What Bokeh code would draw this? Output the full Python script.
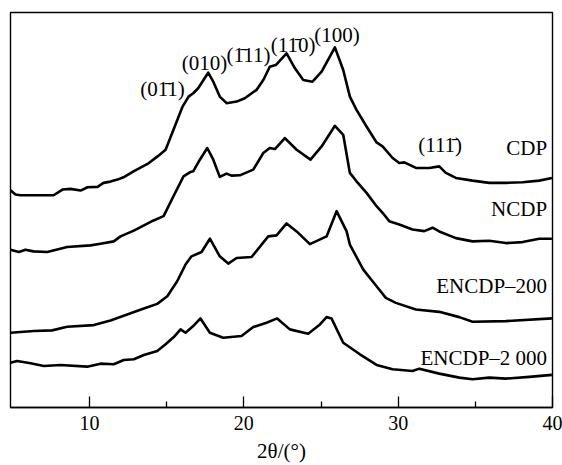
from bokeh.plotting import figure
from bokeh.models import Range1d, FixedTicker, Label
from bokeh.embed import file_html
from bokeh.resources import INLINE

# ---- data (2theta in degrees, intensity in arbitrary units, curves already offset) ----
tt_cdp = [4.88, 5.20, 5.53, 7.67, 8.25, 8.77, 9.42, 9.87, 10.52, 10.91, 11.36, 11.81, 12.20,
          12.85, 13.76, 14.41, 14.93, 15.44, 16.03, 16.42, 16.72, 17.04, 17.69, 18.02, 18.44,
          18.88, 19.53, 20.06, 20.82, 21.26, 21.68, 22.07, 22.77, 23.31, 23.85, 24.45, 25.04,
          25.90, 26.44, 26.87, 27.30, 27.95, 28.60, 28.99, 29.64, 30.07, 30.40, 31.15, 32.02,
          32.66, 33.09, 33.74, 34.82, 35.90, 36.98, 38.06, 39.14, 39.96]
cdp = [218.0, 213.7, 213.0, 213.0, 218.7, 219.4, 217.7, 221.0, 221.4, 225.4, 226.7, 228.7, 231.0,
       237.0, 244.4, 252.0, 258.7, 278.7, 302.0, 312.0, 315.4, 320.4, 336.0, 327.0, 312.0,
       305.4, 307.0, 310.4, 318.7, 328.7, 342.0, 343.7, 355.4, 340.4, 328.7, 327.0, 337.0,
       361.4, 338.7, 312.0, 298.7, 282.0, 266.0, 262.0, 250.4, 245.4, 246.0, 240.4, 240.4,
       242.0, 235.4, 230.4, 227.7, 225.4, 225.4, 226.0, 227.7, 230.4]

tt_ncdp = [4.88, 5.42, 5.85, 6.37, 7.26, 8.55, 10.06, 10.71, 11.57, 12.01, 12.87, 14.15, 14.80,
           15.44, 16.09, 16.55, 16.72, 17.15, 17.63, 18.02, 18.44, 18.88, 19.20, 19.74, 20.61,
           21.26, 21.68, 22.01, 22.66, 23.42, 24.32, 25.04, 25.90, 26.44, 26.87, 27.30, 27.95,
           28.60, 28.99, 29.42, 30.07, 30.93, 31.69, 32.23, 32.66, 33.74, 34.82, 35.90, 36.98,
           38.06, 39.14, 39.96]
ncdp = [158.4, 156.0, 158.4, 156.7, 156.0, 161.0, 162.7, 164.4, 166.7, 171.7, 177.5, 187.7, 192.0,
        212.0, 232.0, 236.4, 237.0, 248.7, 260.4, 248.7, 231.4, 234.7, 232.7, 233.0, 238.7,
        255.4, 260.4, 259.4, 270.4, 258.7, 248.7, 262.0, 282.7, 273.7, 235.4, 227.0, 215.4,
        202.0, 195.4, 187.0, 183.7, 178.7, 177.0, 180.4, 176.7, 170.0, 166.7, 167.4, 165.0,
        166.0, 169.4, 169.4]

tt_e200 = [4.88, 6.39, 7.58, 8.55, 10.28, 11.36, 12.44, 13.52, 14.39, 15.04, 15.68, 16.22, 16.61,
           17.26, 17.80, 18.44, 18.99, 19.53, 20.50, 21.58, 22.12, 22.77, 23.42, 24.28, 25.36,
           26.01, 26.66, 26.87, 27.74, 28.60, 29.20, 29.85, 31.15, 32.66, 33.96, 34.82, 36.98,
           39.96]
e200 = [75.0, 76.7, 77.4, 81.0, 82.7, 87.4, 93.4, 99.4, 104.0, 111.7, 126.7, 143.4, 151.7,
        156.0, 169.4, 151.7, 144.4, 150.0, 151.0, 171.7, 172.7, 184.7, 176.7, 164.0, 171.7,
        197.0, 176.7, 163.4, 138.4, 121.7, 110.0, 105.0, 98.4, 96.0, 90.7, 86.0, 86.7,
        89.4]

tt_e2000 = [4.88, 5.31, 6.18, 7.04, 8.12, 9.85, 10.71, 11.57, 12.22, 12.87, 13.52, 14.39, 14.93,
            15.46, 15.90, 16.22, 16.72, 17.19, 17.80, 18.66, 19.85, 20.61, 21.47, 22.16, 22.98,
            24.17, 24.93, 25.36, 25.68, 26.44, 27.52, 28.60, 29.64, 30.93, 31.37, 32.66, 33.96,
            34.82, 35.90, 36.98, 38.50, 39.96]
e2000 = [45.0, 46.7, 44.4, 41.7, 42.7, 41.0, 44.0, 43.4, 47.7, 48.4, 52.7, 56.7, 63.4,
         70.7, 78.4, 75.0, 81.7, 89.4, 75.0, 70.0, 71.7, 80.7, 85.0, 89.4, 78.4,
         74.0, 83.4, 90.7, 89.4, 65.0, 53.4, 42.7, 38.4, 36.7, 39.0, 34.0, 30.0,
         28.4, 30.0, 29.0, 30.7, 32.7]

series_names = ["CDP", "NCDP", "ENCDP\u2013200", "ENCDP\u20132 000"]
miller_labels = ["(01\u03041)", "(010)", "(1\u030411)", "(11\u03040)", "(100)", "(111\u0304)"]
tick_values = [10, 20, 30, 40]
minor_tick_values = [15, 25, 35]
x_title = "2\u03b8/(\u00b0)"

FONT = "Liberation Serif"

p = figure(width=562, height=465, output_backend="svg", toolbar_location=None,
           x_range=Range1d(4.88, 40), y_range=Range1d(0, 396.4),
           min_border_left=10, min_border_right=10, min_border_top=12, min_border_bottom=56)
p.background_fill_color = "white"
p.border_fill_color = "white"
p.outline_line_color = "black"
p.outline_line_width = 1.4
p.xgrid.visible = False
p.ygrid.visible = False
p.yaxis.visible = False

ax = p.xaxis[0]
ax.ticker = FixedTicker(ticks=tick_values, minor_ticks=minor_tick_values)
ax.major_tick_in = 11
ax.major_tick_out = 0
ax.minor_tick_in = 6
ax.minor_tick_out = 0
ax.major_tick_line_width = 1.3
ax.minor_tick_line_width = 1.3
ax.axis_line_width = 1.4
ax.major_label_text_font = FONT
ax.major_label_text_font_size = "20px"
ax.major_label_text_color = "black"
ax.major_label_standoff = 8
ax.axis_label = x_title
ax.axis_label_text_font = FONT
ax.axis_label_text_font_size = "21px"
ax.axis_label_text_font_style = "normal"
ax.axis_label_text_color = "black"
ax.axis_label_standoff = 6

for xs, ys in [(tt_cdp, cdp), (tt_ncdp, ncdp), (tt_e200, e200), (tt_e2000, e2000)]:
    p.line(xs, ys, line_color="black", line_width=2.6, line_join="round")

# Miller index annotations
miller_pos = [(14.73, 319.7), (17.45, 346.2), (20.30, 354.2), (23.19, 363.7), (26.04, 373.7), (32.72, 263.7)]
for txt, (lx, ly) in zip(miller_labels, miller_pos):
    p.add_layout(Label(x=lx, y=ly, text=txt, text_align="center", text_baseline="middle",
                       text_font=FONT, text_font_size="21px", text_color="black"))

# Series names
name_y = [260.7, 199.2, 122.2, 49.2]
for txt, ly in zip(series_names, name_y):
    p.add_layout(Label(x=39.65, y=ly, text=txt, text_align="right", text_baseline="middle",
                       text_font=FONT, text_font_size="21px", text_color="black"))

open("out.html", "w").write(file_html(p, INLINE))
